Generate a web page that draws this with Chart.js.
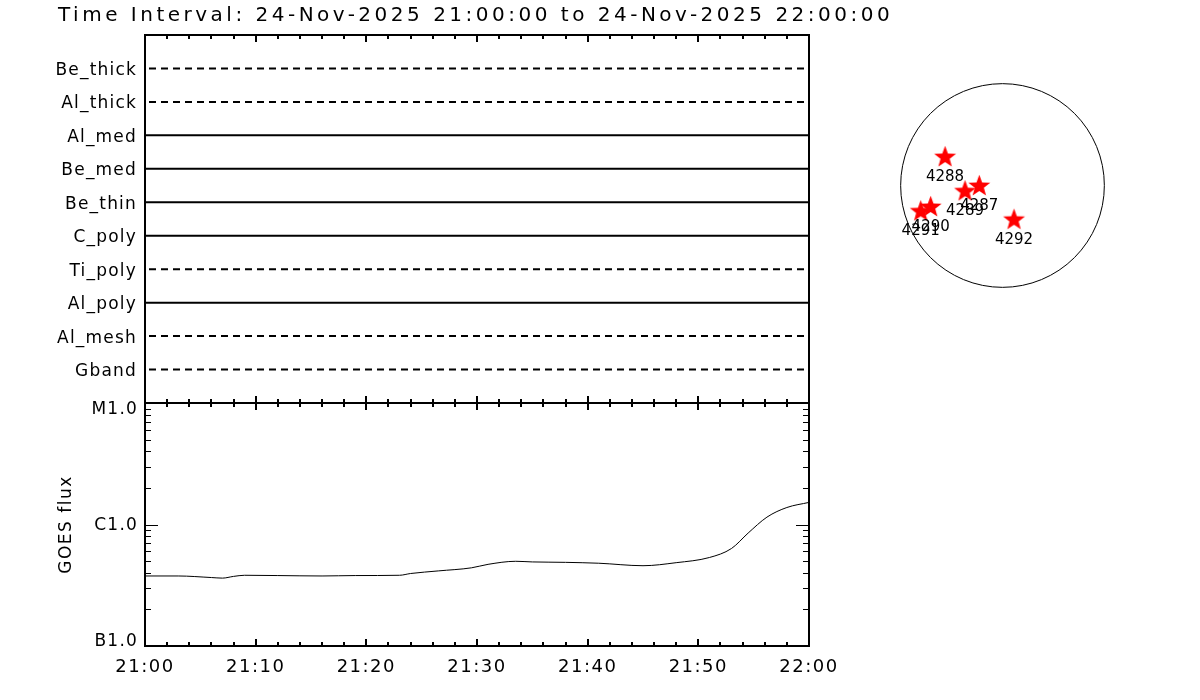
<!DOCTYPE html>
<html><head><meta charset="utf-8">
<script src="https://cdn.jsdelivr.net/npm/chart.js@4.4.1/dist/chart.umd.min.js"></script>
<style>
html,body{margin:0;padding:0;background:#fff;}
#wrap{position:relative;width:1200px;height:700px;overflow:hidden;background:#fff;}
canvas{position:absolute;left:0;top:0;}
#title{position:absolute;left:58px;top:2px;font:20px 'DejaVu Sans';line-height:24px;letter-spacing:3.5px;color:#000;white-space:nowrap;}
</style></head><body>
<div id="wrap">
<canvas id="cTop" width="1200" height="700"></canvas>
<canvas id="cGoes" width="1200" height="700"></canvas>
<canvas id="cDisk" width="1200" height="700"></canvas>
<div id="title">Time Interval: 24-Nov-2025 21:00:00 to 24-Nov-2025 22:00:00</div>
</div>
<script>
// ---------- DATA ----------
const timeTickMinutes = [0, 10, 20, 30, 40, 50, 60];
const timeTickLabels = ["21:00", "21:10", "21:20", "21:30", "21:40", "21:50", "22:00"];

const filters = ["Be_thick", "Al_thick", "Al_med", "Be_med", "Be_thin", "C_poly", "Ti_poly", "Al_poly", "Al_mesh", "Gband"];
const filterObserved = [false, false, true, true, true, true, false, true, false, false];

const goesMinutes = [0, 3, 6, 7, 8, 9, 12, 16, 19, 23, 24, 26.5, 29.5, 31, 33.5, 35, 38, 41, 45, 48, 51, 53, 54.5, 56.2, 58, 60];
const goesFlux = [3.77e-7, 3.77e-7, 3.66e-7, 3.62e-7, 3.74e-7, 3.82e-7, 3.80e-7, 3.77e-7, 3.80e-7, 3.82e-7, 3.95e-7, 4.15e-7, 4.40e-7, 4.70e-7, 4.98e-7, 4.92e-7, 4.88e-7, 4.80e-7, 4.58e-7, 4.85e-7, 5.35e-7, 6.35e-7, 8.5e-7, 1.15e-6, 1.38e-6, 1.52e-6];
const goesTickValues = [1e-7, 1e-6, 1e-5];
const goesTickLabels = ["B1.0", "C1.0", "M1.0"];

const regionIds = ["4288", "4287", "4289", "4290", "4291", "4292"];
const regionX = [-547, -221, -357, -684, -779, 110];   // arcsec
const regionY = [276, 0, -50, -200, -241, -321];      // arcsec
const solarRadius = 970; // arcsec

// ---------- HELPERS ----------
const FONT = "'DejaVu Sans', 'Liberation Sans', sans-serif";

const spacingPlugin = {
  id: 'spacing',
  beforeUpdate(chart, args, opts) { chart.ctx.letterSpacing = opts.value || '0px'; },
  beforeDraw(chart, args, opts) { chart.ctx.letterSpacing = opts.value || '0px'; }
};

const framePlugin = {
  id: 'frame',
  afterDatasetsDraw(chart, args, opts) {
    if (!opts.enabled) return;
    const {ctx, chartArea: a, scales} = chart;
    const xs = scales.x;
    ctx.save();
    ctx.letterSpacing = '0px';
    ctx.strokeStyle = '#000';
    ctx.lineWidth = 2;
    ctx.strokeRect(a.left, a.top, a.right - a.left, a.bottom - a.top);
    ctx.beginPath();
    for (let m = xs.min; m <= xs.max + 1e-9; m += 2) {
      const px = Math.round(xs.getPixelForValue(m));
      const major = Math.abs(m % 10) < 1e-9;
      const len = major ? 7 : 4;
      if (opts.top) { ctx.moveTo(px, a.top); ctx.lineTo(px, a.top + len); }
      if (opts.bottom) { ctx.moveTo(px, a.bottom); ctx.lineTo(px, a.bottom - len); }
    }
    ctx.stroke();
    if (opts.logTicks) {
      const ys = scales.y;
      ctx.lineWidth = 1;
      ctx.beginPath();
      const e0 = Math.round(Math.log10(ys.min)), e1 = Math.round(Math.log10(ys.max));
      for (let e = e0; e < e1; e++) {
        for (let k = 1; k < 10; k++) {
          const py = Math.round(ys.getPixelForValue(k * Math.pow(10, e))) + 0.5;
          const len = k === 1 ? 13 : 6;
          ctx.moveTo(a.left, py); ctx.lineTo(a.left + len, py);
          ctx.moveTo(a.right, py); ctx.lineTo(a.right - len, py);
        }
      }
      ctx.stroke();
    }
    ctx.restore();
  }
};

const goesLabelPlugin = {
  id: 'goesLabels',
  afterDraw(chart, args, opts) {
    if (!opts.enabled) return;
    const {ctx, chartArea: a, scales} = chart;
    const ys = scales.y;
    ctx.save();
    ctx.letterSpacing = '1.2px';
    ctx.font = '17px ' + FONT;
    ctx.fillStyle = '#000';
    ctx.textAlign = 'right';
    ctx.textBaseline = 'middle';
    goesTickValues.forEach((v, i) => {
      let py = ys.getPixelForValue(v) + 1.5;
      py = Math.min(Math.max(py, a.top + 7), a.bottom - 4);
      ctx.fillText(goesTickLabels[i], a.left - 7, py);
    });
    ctx.restore();
  }
};

const diskPlugin = {
  id: 'disk',
  beforeDatasetsDraw(chart, args, opts) {
    if (!opts.enabled) return;
    const {ctx, scales} = chart;
    const cx = scales.x.getPixelForValue(0), cy = scales.y.getPixelForValue(0);
    const r = scales.x.getPixelForValue(solarRadius) - cx;
    ctx.save();
    ctx.strokeStyle = '#000';
    ctx.lineWidth = 1;
    ctx.beginPath();
    ctx.arc(cx, cy, r, 0, Math.PI * 2);
    ctx.stroke();
    ctx.restore();
  },
  afterDatasetsDraw(chart, args, opts) {
    if (!opts.enabled) return;
    const {ctx} = chart;
    const meta = chart.getDatasetMeta(0);
    ctx.save();
    ctx.letterSpacing = '0px';
    ctx.font = '15px ' + FONT;
    ctx.fillStyle = '#000';
    ctx.textAlign = 'center';
    ctx.textBaseline = 'middle';
    meta.data.forEach((pt, i) => {
      ctx.fillText(regionIds[i], pt.x, pt.y + 20.5);
    });
    ctx.restore();
  }
};

function makeStar(rOut, rIn, color) {
  const s = Math.ceil(rOut * 2) + 2;
  const c = document.createElement('canvas');
  c.width = s; c.height = s;
  const g = c.getContext('2d');
  g.beginPath();
  for (let i = 0; i < 10; i++) {
    const r = i % 2 ? rIn : rOut;
    const ang = -Math.PI / 2 + i * Math.PI / 5;
    g.lineTo(s / 2 + r * Math.cos(ang), s / 2 + r * Math.sin(ang) + 0.8);
  }
  g.closePath();
  g.fillStyle = color;
  g.fill();
  return c;
}

Chart.register(spacingPlugin, framePlugin, goesLabelPlugin, diskPlugin);
Chart.defaults.font.family = FONT;
Chart.defaults.color = '#000';

const fixTimeTicks = (scale) => { scale.ticks = timeTickMinutes.map(v => ({value: v})); };
const timeLabel = (v) => { const i = timeTickMinutes.indexOf(v); return i >= 0 ? timeTickLabels[i] : ''; };

// ---------- TOP PANEL (filters) ----------
new Chart(document.getElementById('cTop'), {
  type: 'line',
  data: {
    datasets: filters.map((name, i) => ({
      label: name,
      data: [{x: 0, y: filters.length - i}, {x: 60, y: filters.length - i}],
      borderColor: '#000',
      borderWidth: 2,
      borderDash: filterObserved[i] ? [] : [7, 5],
      borderDashOffset: filterObserved[i] ? 0 : 8,
      pointRadius: 0,
      fill: false
    }))
  },
  options: {
    responsive: false,
    animation: false,
    events: [],
    layout: {padding: {left: 0, top: 35, right: 391, bottom: 297}},
    plugins: {
      legend: {display: false}, tooltip: {enabled: false},
      spacing: {value: '1.2px'},
      frame: {enabled: true, top: true, bottom: true, logTicks: false},
      goesLabels: {enabled: false}, disk: {enabled: false}
    },
    scales: {
      x: {type: 'linear', min: 0, max: 60, display: false},
      y: {
        type: 'linear', min: 0, max: filters.length + 1,
        afterBuildTicks: (s) => { s.ticks = filters.map((f, i) => ({value: filters.length - i})); },
        afterFit: (s) => { s.width = 145; },
        grid: {display: false, drawTicks: false},
        border: {display: false},
        ticks: {
          padding: 8,
          labelOffset: 2,
          font: {size: 17},
          color: '#000',
          callback: (v) => filters[filters.length - v] || ''
        }
      }
    }
  }
});

// ---------- GOES PANEL ----------
new Chart(document.getElementById('cGoes'), {
  type: 'line',
  data: {
    datasets: [{
      label: 'GOES',
      data: goesMinutes.map((m, i) => ({x: m, y: goesFlux[i]})),
      borderColor: '#000',
      borderWidth: 1,
      pointRadius: 0,
      cubicInterpolationMode: 'monotone',
      fill: false
    }]
  },
  options: {
    responsive: false,
    animation: false,
    events: [],
    layout: {padding: {left: 0, top: 403, right: 391, bottom: 0}},
    plugins: {
      legend: {display: false}, tooltip: {enabled: false},
      spacing: {value: '1.5px'},
      frame: {enabled: true, top: true, bottom: true, logTicks: true},
      goesLabels: {enabled: true}, disk: {enabled: false}
    },
    scales: {
      x: {
        type: 'linear', min: 0, max: 60,
        afterBuildTicks: fixTimeTicks,
        afterFit: (s) => { s.height = 54; },
        grid: {display: false, drawTicks: false},
        border: {display: false},
        ticks: {padding: 11, font: {size: 18}, color: '#000', autoSkip: false, maxRotation: 0, callback: timeLabel}
      },
      y: {
        type: 'logarithmic', min: 1e-7, max: 1e-5,
        afterBuildTicks: (s) => { s.ticks = goesTickValues.map(v => ({value: v})); },
        afterFit: (s) => { s.width = 145; },
        grid: {display: false, drawTicks: false},
        border: {display: false},
        ticks: {display: false},
        title: {display: true, text: 'GOES flux', font: {size: 17}, color: '#000', padding: {top: 56, bottom: 0}}
      }
    }
  }
});

// ---------- SOLAR DISK ----------
const starImg = makeStar(11.5, 4.8, '#ff0000');
new Chart(document.getElementById('cDisk'), {
  type: 'scatter',
  data: {
    datasets: [{
      label: 'Active regions',
      data: regionX.map((x, i) => ({x: x, y: regionY[i]})),
      pointStyle: starImg,
      pointRadius: 12,
      showLine: false
    }]
  },
  options: {
    responsive: false,
    animation: false,
    events: [],
    layout: {padding: {left: 887, top: 70, right: 82, bottom: 399}},
    plugins: {
      legend: {display: false}, tooltip: {enabled: false},
      frame: {enabled: false}, goesLabels: {enabled: false}, disk: {enabled: true}
    },
    scales: {
      x: {type: 'linear', min: -1100, max: 1100, display: false},
      y: {type: 'linear', min: -1100, max: 1100, display: false}
    }
  }
});
</script>
</body></html>
